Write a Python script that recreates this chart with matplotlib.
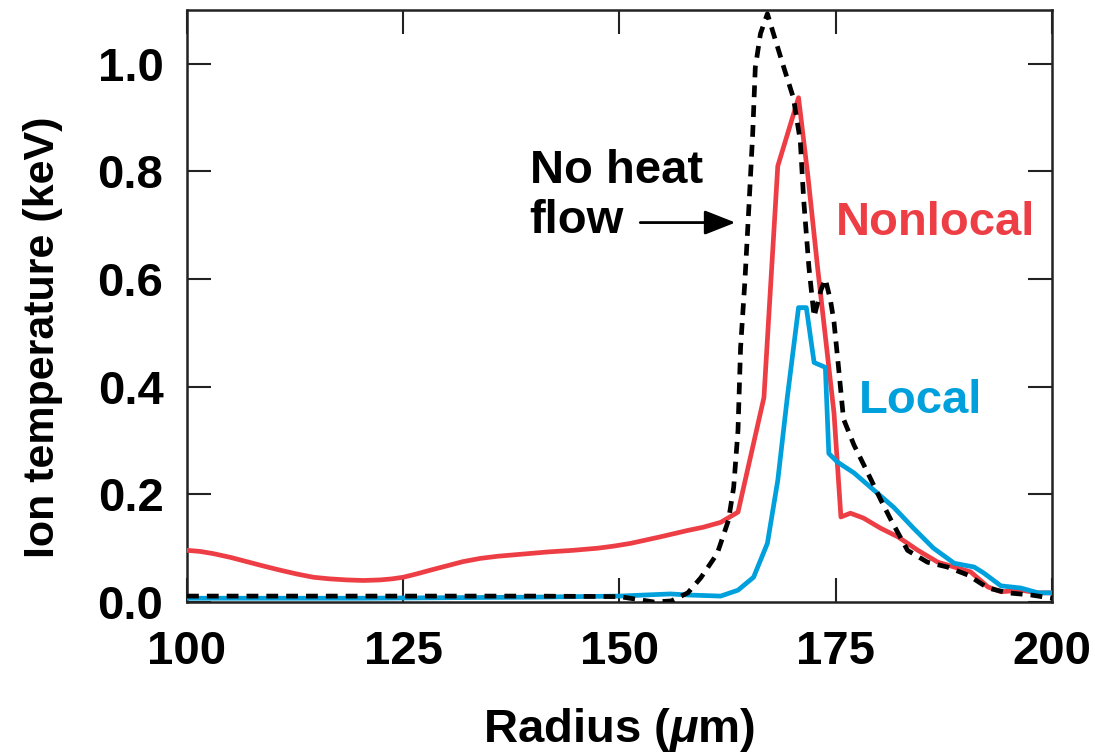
import matplotlib
matplotlib.use("Agg")
import matplotlib.pyplot as plt

plt.rcParams['font.family'] = ['Liberation Sans', 'DejaVu Sans']
plt.rcParams['font.weight'] = 'bold'
plt.rcParams['mathtext.fontset'] = 'custom'
plt.rcParams['mathtext.it'] = 'Liberation Sans:italic:bold'
plt.rcParams['mathtext.rm'] = 'Liberation Sans:bold'

# ---- data ----
# No heat flow (dashed black)
nohf_r = [100, 110, 120, 130, 140, 150, 152, 154, 156, 157.9, 159.4, 161.3, 162.6,
          163.2, 163.7, 164.0, 164.5, 165.0, 165.4, 165.7, 166.3, 167.1, 167.8,
          169.0, 170.1, 170.9, 171.3, 171.9, 172.5, 173.3, 173.8, 174.4, 174.8,
          175.3, 175.9, 177.1, 178.7, 180.2, 181.4, 183.3, 185.6, 187.9, 190.3,
          192.6, 194.9, 197.6, 200]
nohf_t = [0.011, 0.011, 0.011, 0.011, 0.011, 0.010, 0.005, 0.0, 0.002, 0.017, 0.045,
          0.090, 0.152, 0.213, 0.319, 0.473, 0.597, 0.746, 0.870, 0.993, 1.056,
          1.093, 1.056, 0.993, 0.937, 0.857, 0.746, 0.622, 0.530, 0.580, 0.600,
          0.560, 0.520, 0.440, 0.340, 0.292, 0.240, 0.190, 0.152, 0.096, 0.074,
          0.065, 0.050, 0.026, 0.017, 0.013, 0.007]

# Nonlocal (red)
nonloc_r = [100, 101.5, 103, 105, 106.9, 108.8, 110.8, 112.7, 114.6, 116.5, 118.5,
            120.4, 122.3, 123.7, 125, 126.5, 128.1, 130, 131.9, 133.9, 135.9, 138.8,
            141.7, 144.6, 147.5, 149.4, 151.3, 153, 154.7, 156.3, 157.9, 159.7,
            161.7, 163.7, 166.7, 168.3, 170.7, 171.8, 172.9, 174.8, 175.6, 176.7,
            178.2, 180.2, 182.2, 184.5, 186.8, 188.7, 190.6, 192.6, 194.1, 196.4,
            198.4, 200]
nonloc_t = [0.096, 0.094, 0.090, 0.083, 0.075, 0.067, 0.059, 0.052, 0.046, 0.043,
            0.041, 0.040, 0.041, 0.043, 0.046, 0.052, 0.059, 0.067, 0.075, 0.081,
            0.085, 0.089, 0.093, 0.096, 0.100, 0.104, 0.109, 0.115, 0.121, 0.127,
            0.133, 0.139, 0.148, 0.167, 0.380, 0.810, 0.937, 0.789, 0.622, 0.351,
            0.158, 0.165, 0.156, 0.137, 0.121, 0.096, 0.074, 0.065, 0.056, 0.028,
            0.019, 0.022, 0.017, 0.017]

# Local (blue)
local_r = [100, 110, 120, 130, 140, 150, 155.9, 158, 161.7, 163.7, 165.5, 167.1,
           168.3, 169.4, 170.7, 171.6, 172.5, 173.8, 174.2, 175.2, 177.1, 179.4,
           181.7, 184.0, 186.3, 188.7, 191.0, 192.1, 194.1, 196.4, 198.4, 200]
local_t = [0.007, 0.007, 0.007, 0.008, 0.009, 0.011, 0.015, 0.013, 0.011, 0.022,
           0.046, 0.109, 0.226, 0.380, 0.547, 0.547, 0.445, 0.436, 0.276, 0.260,
           0.240, 0.208, 0.176, 0.137, 0.100, 0.072, 0.065, 0.054, 0.030, 0.026,
           0.017, 0.017]

x_ticks = [100, 125, 150, 175, 200]
y_ticks = [0.0, 0.2, 0.4, 0.6, 0.8, 1.0]

RED = '#EE3E45'
BLUE = '#00A0DC'

fig = plt.figure(figsize=(10.95, 7.56), dpi=100)
ax = fig.add_axes([0.1708, 0.2037, 0.7899, 0.7831])

ax.plot(nonloc_r, nonloc_t, color=RED, lw=3.4, zorder=3)
ax.plot(local_r, local_t, color=BLUE, lw=3.4, zorder=3)
ax.plot(nohf_r, nohf_t, color='black', lw=3.4, ls=(0, (2.5, 1.7)), zorder=4)

ax.set_xlim(100, 200)
ax.set_ylim(0, 1.1)
ax.set_xticks(x_ticks)
ax.set_yticks(y_ticks)
ax.set_yticklabels([f"{v:.1f}" for v in y_ticks])

for s in ax.spines.values():
    s.set_linewidth(1.8)
    s.set_color('#222222')
ax.tick_params(direction='in', length=17, width=1.5, color='#222222',
               top=True, right=True, labelsize=34)
ax.tick_params(axis='x', pad=20)
ax.tick_params(axis='y', pad=17)

ax.set_xlabel(r"Radius ($\mu$m)", fontsize=34, fontweight='bold', labelpad=23)
ax.set_ylabel("Ion temperature (keV)", fontsize=31, fontweight='bold')
ax.yaxis.set_label_coords(-0.143, 0.448)

ax.text(139.6, 0.779, "No heat", fontsize=34, fontweight='bold', color='black')
ax.text(139.6, 0.686, "flow", fontsize=34, fontweight='bold', color='black')
ax.annotate("", xy=(163.4, 0.705), xytext=(152.4, 0.705),
            arrowprops=dict(arrowstyle='-|>,head_length=1.9,head_width=0.75',
                            color='black', lw=2, shrinkA=0, shrinkB=0))
ax.text(175.0, 0.681, "Nonlocal", fontsize=34, fontweight='bold', color=RED)
ax.text(177.7, 0.351, "Local", fontsize=34, fontweight='bold', color=BLUE)

fig.savefig("out.png", dpi=100)
